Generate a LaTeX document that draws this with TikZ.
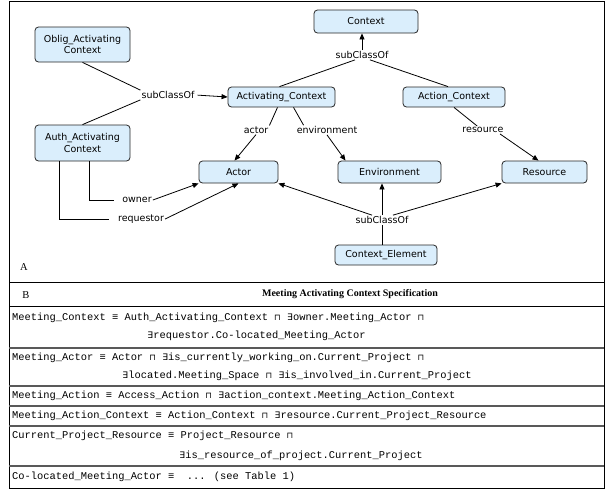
\documentclass[tikz,border=0pt]{standalone}
\usepackage{fontspec}
\setmainfont{DejaVu Sans}
\newfontfamily\monof{Liberation Mono}
\newfontfamily\serf{Liberation Serif}
\newfontfamily\symf{DejaVu Sans}
\usetikzlibrary{arrows.meta}
\definecolor{boxblue}{RGB}{218,238,252}
\newcommand\mand{\makebox[0.6em][c]{\symf\fontsize{8.5}{8.5}\selectfont ⊓}}
\newcommand\mex{\makebox[0.6em][c]{\symf\fontsize{9}{9}\selectfont ∃}}
\newcommand\meq{≡}
\tikzset{
  cbox/.style={draw=black!85, fill=boxblue, rounded corners=3.5pt, line width=0.8pt,
    font=\fontsize{9.5}{11.5}\selectfont, align=center, inner sep=0pt},
  lbl/.style={font=\fontsize{9.5}{11}\selectfont, inner sep=1pt},
  arr/.style={-{Triangle[length=6pt,width=5pt]}, line width=0.8pt},
  ln/.style={line width=0.8pt},
  tt/.style={font=\monof\fontsize{10.4}{12}\selectfont, anchor=west, inner sep=0pt},
  sep/.style={line width=1.1pt, draw=black!65},
  frm/.style={line width=1pt, draw=black}
}
\begin{document}
\begin{tikzpicture}[x=1pt,y=-1pt]
\useasboundingbox (0,0) rectangle (605,490);
% ---------- panel A ----------
\node[cbox, minimum width=104pt, minimum height=23pt] (ctx) at (366,21.5) {Context};
\node[lbl] (s1) at (362,55) {subClassOf};
\node[cbox, minimum width=107pt, minimum height=20pt] (act) at (281.5,97) {Activating\_Context};
\node[cbox, minimum width=102pt, minimum height=20pt] (acn) at (454,97) {Action\_Context};
\node[cbox, minimum width=95pt, minimum height=35pt] (obl) at (82.5,44.5) {Oblig\_Activating\\Context};
\node[cbox, minimum width=95pt, minimum height=36pt] (aut) at (82.5,143) {Auth\_Activating\\Context};
\node[lbl] (s2) at (168,95) {subClassOf};
\node[lbl] (la) at (256,130) {actor};
\node[lbl] (le) at (327,130) {environment};
\node[lbl] (lr) at (483,130) {resource};
\node[cbox, minimum width=79pt, minimum height=22pt] (actor) at (238.5,172) {Actor};
\node[cbox, minimum width=103pt, minimum height=22pt] (env) at (389.5,172) {Environment};
\node[cbox, minimum width=85pt, minimum height=22pt] (res) at (544.5,172) {Resource};
\node[lbl] (s3) at (382,220) {subClassOf};
\node[cbox, minimum width=102pt, minimum height=20pt] (ce) at (386,255) {Context\_Element};
\node[lbl] (lo) at (137,200) {owner};
\node[lbl] (lq) at (141,219) {requestor};
\node[font=\serf\fontsize{10.5}{12}\selectfont, inner sep=0pt] (pa) at (24,267) {A};

\draw[arr] (s1.north) -- (s1.north |- ctx.south);
\draw[ln] ([xshift=-7pt]s1.south) -- ([xshift=-2pt]act.north);
\draw[ln] ([xshift=8pt]s1.south) -- ([xshift=-6pt]acn.north);
\draw[ln] (obl.south) -- (s2.north west);
\draw[ln] (aut.north) -- (s2.south west);
\draw[arr, shorten <=2pt] (s2.east) -- (act.west);
\draw[ln] ([xshift=-4pt]act.south) -- (la.north east);
\draw[arr] (la.south) -- ([xshift=-4pt]actor.north);
\draw[ln] ([xshift=12pt]act.south) -- ([xshift=8pt]le.north west);
\draw[arr] (le.south) -- ([xshift=-44pt]env.north);
\draw[ln] (acn.south) -- ([xshift=16pt]lr.north west);
\draw[arr] ([xshift=17pt]lr.south) -- ([xshift=-6pt]res.north);
\draw[ln, shorten >=7pt] ([xshift=6.5pt]aut.south) |- (lo.west);
\draw[ln, shorten >=8pt] ([xshift=-23.5pt]aut.south) |- (lq.west);
\draw[arr] (lo.east) -- (actor.south west);
\draw[arr] (lq.east) -- (actor.south);
\draw[arr] ([xshift=-10pt]s3.north) -- (actor.south east);
\draw[arr] (s3.north) -- (s3.north |- env.south);
\draw[arr] ([xshift=11pt]s3.north) -- (res.south west);
\draw[ln] (ce.north -| s3) -- (s3.south);

% ---------- panel B ----------
\node[font=\serf\fontsize{10.5}{12}\selectfont, inner sep=0pt] (pb) at (26,295) {B};
\node[font=\serf\bfseries\fontsize{10}{12}\selectfont, inner sep=0pt] (hd) at (350,294) {Meeting Activating Context Specification};

\node[tt] (r1a) at (12,318) {Meeting\_Context \meq{} Auth\_Activating\_Context \mand{} \mex owner.Meeting\_Actor \mand};
\node[tt] (r1b) at (147,336) {\mex requestor.Co-located\_Meeting\_Actor};
\node[tt] (r2a) at (12,358) {Meeting\_Actor \meq{} Actor \mand{} \mex is\_currently\_working\_on.Current\_Project \mand};
\node[tt] (r2b) at (122,376) {\mex located.Meeting\_Space \mand{} \mex is\_involved\_in.Current\_Project};
\node[tt] (r3) at (12,396) {Meeting\_Action \meq{} Access\_Action \mand{} \mex action\_context.Meeting\_Action\_Context};
\node[tt] (r4) at (12,416) {Meeting\_Action\_Context \meq{} Action\_Context \mand{} \mex resource.Current\_Project\_Resource};
\node[tt] (r5a) at (12,436) {Current\_Project\_Resource \meq{} Project\_Resource \mand};
\node[tt] (r5b) at (179,456) {\mex is\_resource\_of\_project.Current\_Project};
\node[tt] (r6) at (12,477) {Co-located\_Meeting\_Actor \meq\ \ ... (see Table 1)};

% frame and rules
\draw[frm] (9,1) rectangle (604,488);
\draw[frm] (9,282) -- (604,282);
\draw[frm] (9,306) -- (604,306);
\draw[sep] (9,348) -- (604,348);
\draw[sep] (9,386) -- (604,386);
\draw[sep] (9,406) -- (604,406);
\draw[sep] (9,426) -- (604,426);
\draw[sep] (9,466) -- (604,466);
\end{tikzpicture}
\end{document}
